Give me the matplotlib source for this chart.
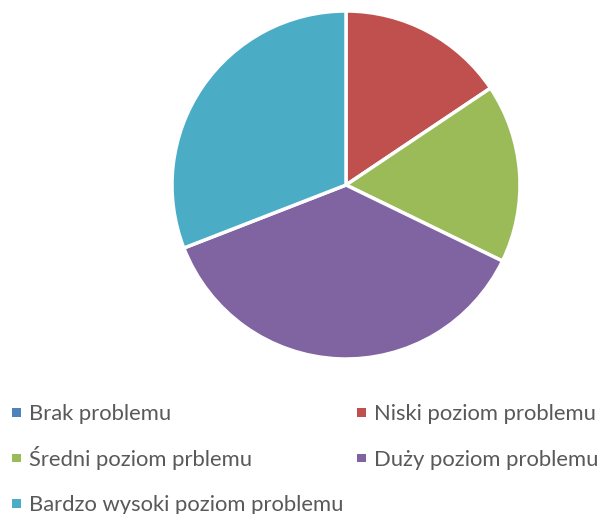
import matplotlib.pyplot as plt
from matplotlib.patches import Rectangle

labels = ['Brak problemu', 'Niski poziom problemu', 'Średni poziom prblemu',
          'Duży poziom problemu', 'Bardzo wysoki poziom problemu']
values = [0, 15.6, 16.6, 36.9, 30.9]
colors = ['#4F81BD', '#C0504D', '#9BBB59', '#8064A2', '#4BACC6']

plt.rcParams['font.family'] = ['Lato', 'DejaVu Sans']

W, H = 602, 514
fig = plt.figure(figsize=(W / 100, H / 100), dpi=100)

# pie placed by pixel centre / radius
cx, cy, r = 346, 185, 174
ax = fig.add_axes([(cx - r) / W, 1 - (cy + r) / H, 2 * r / W, 2 * r / H])
ax.pie(values, colors=colors, startangle=90, counterclock=False,
       wedgeprops=dict(edgecolor='white', linewidth=2.5))
ax.set_xlim(-1, 1)
ax.set_ylim(-1, 1)
ax.set_aspect('equal')

# legend laid out by hand: two columns, row by row
col_x = [12, 357]      # marker left edge, px
row_y = [412.5, 458, 503.5]  # row centre, px
msize = 8.5
for i, (lab, c) in enumerate(zip(labels, colors)):
    x0 = col_x[i % 2]
    yc = row_y[i // 2]
    fig.patches.append(Rectangle((x0 / W, 1 - (yc + msize / 2) / H), msize / W, msize / H,
                                 transform=fig.transFigure, facecolor=c, edgecolor='none'))
    fig.text((x0 + 17) / W, 1 - (yc + 7.5) / H, lab, fontsize=15.8,
             color='#595959', va='baseline', ha='left')

fig.savefig('out.png', dpi=100)
